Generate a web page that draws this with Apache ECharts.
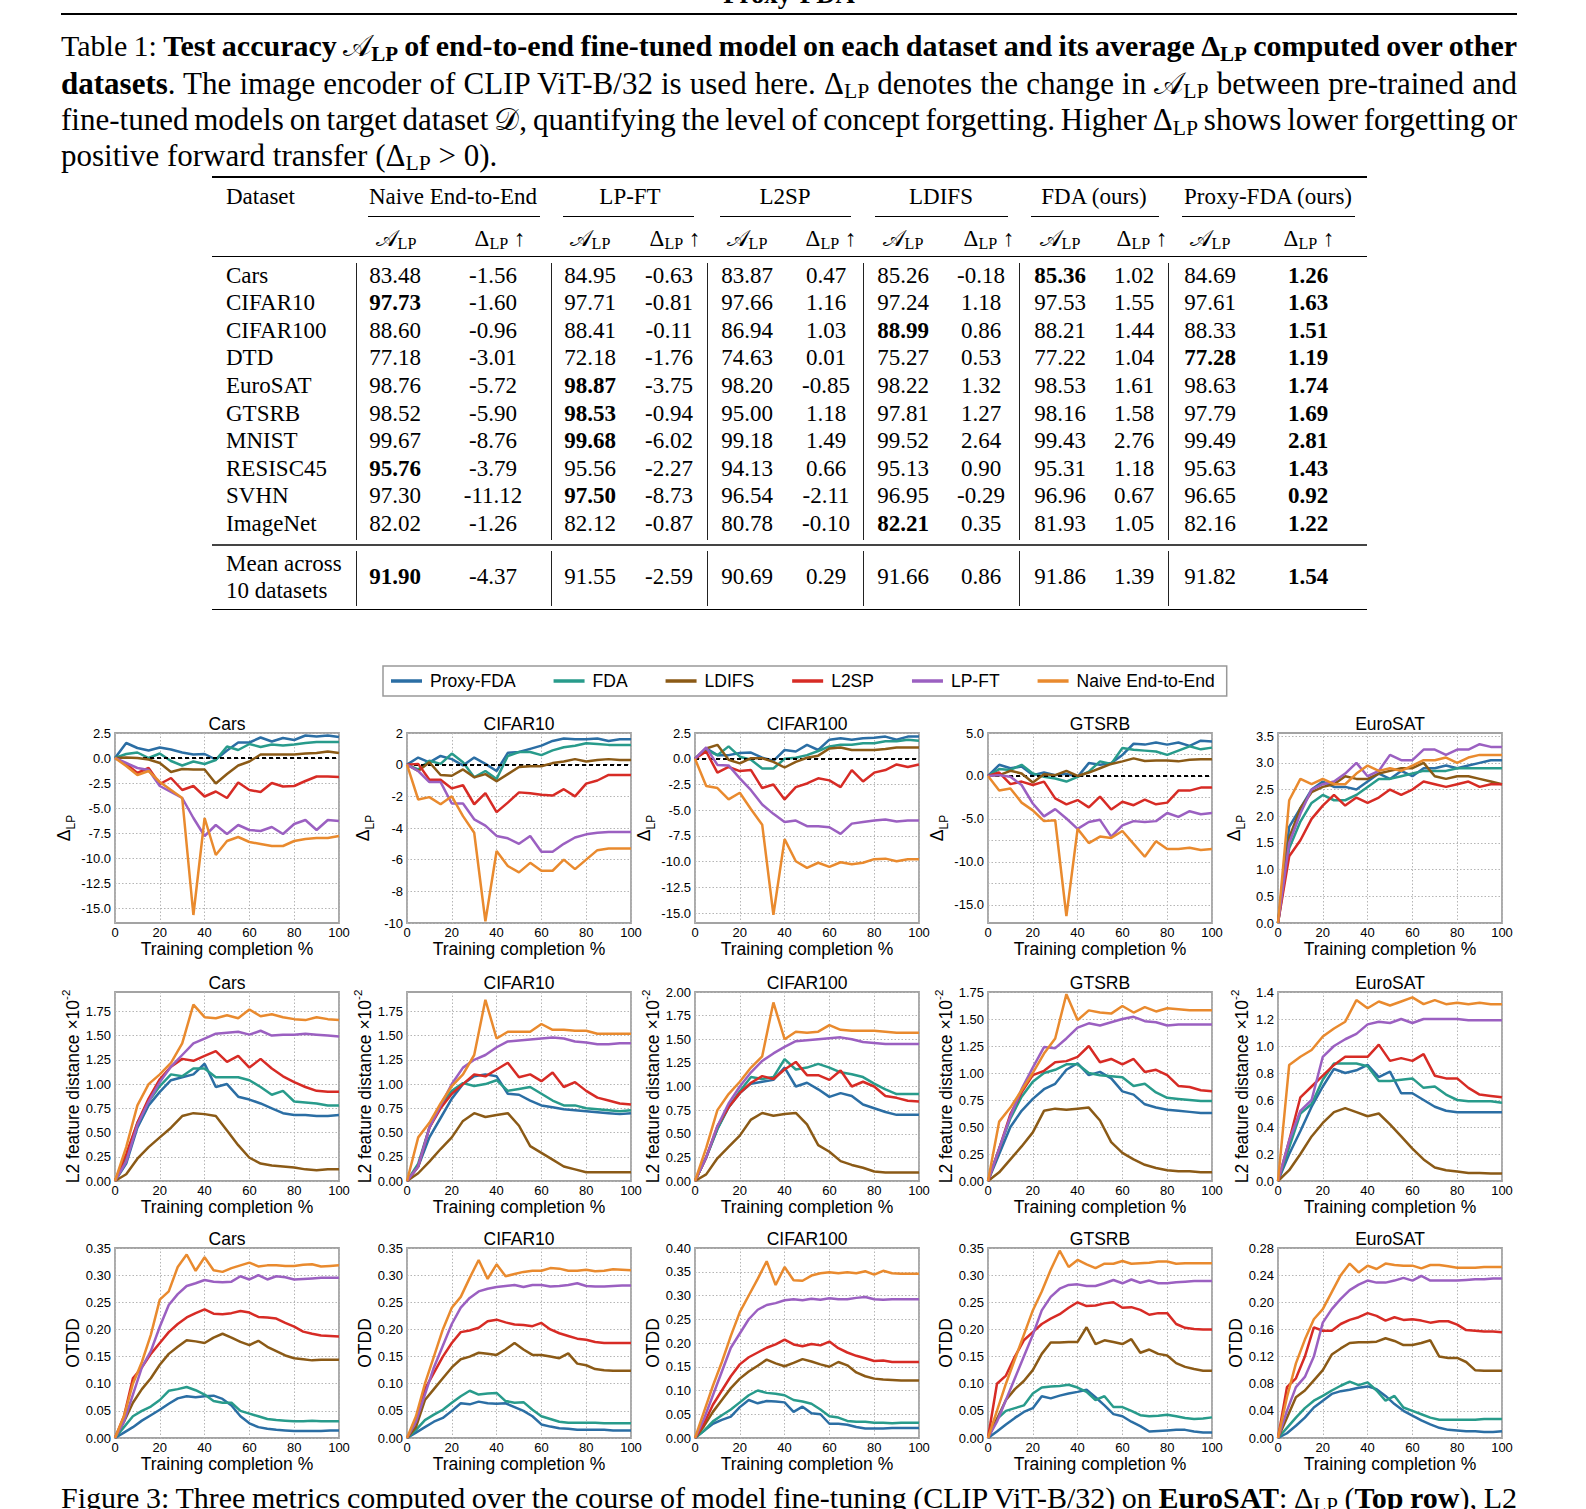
<!DOCTYPE html>
<html>
<head>
<meta charset="utf-8">
<script src="https://cdn.jsdelivr.net/npm/echarts@6.0.0/dist/echarts.min.js"></script>
<style>
html,body{margin:0;padding:0;background:#fff;}
#page{position:relative;width:1586px;height:1509px;overflow:hidden;font-family:"Liberation Serif","Times New Roman",serif;color:#000;background:#fff;}
.abs{position:absolute;white-space:nowrap;}
.cap{position:absolute;left:61px;width:1456px;font-size:31px;line-height:36.5px;white-space:nowrap;}
.sb{position:relative;top:0.22em;font-size:0.7em;}
.cal{font-family:"DejaVu Serif","DejaVu Sans","Noto Sans",serif;font-style:normal;font-weight:normal;}
.hl{position:absolute;background:#000;}
#chart{position:absolute;left:0;top:640px;width:1586px;height:840px;}
</style>
</head>
<body>
<div id="page">
  <div class="abs" style="left:589px;width:400px;text-align:center;top:-18.9px;font-size:26.7px;line-height:26.7px;font-weight:bold;">Proxy-FDA</div>
  <div class="hl" style="left:61px;top:12.5px;width:1456px;height:2.8px;"></div>
  <div class="cap jl" style="top:28.4px;font-size:30px"><span>Table 1: <b>Test accuracy <span class="cal">𝒜</span><span class="sb">LP</span> of end-to-end fine-tuned model on each dataset and its average Δ<span class="sb">LP</span> computed over other</b></span></div>
  <div class="cap jl" style="top:64.5px"><span><b>datasets</b>. The image encoder of CLIP ViT-B/32 is used here. Δ<span class="sb">LP</span> denotes the change in <span class="cal">𝒜</span><span class="sb">LP</span> between pre-trained and</span></div>
  <div class="cap jl" style="top:101px"><span>fine-tuned models on target dataset <span class="cal">𝒟</span>, quantifying the level of concept forgetting. Higher Δ<span class="sb">LP</span> shows lower forgetting or</span></div>
  <div class="cap" style="top:137.5px"><span>positive forward transfer (Δ<span class="sb">LP</span> &gt; 0).</span></div>
  <div class="cap jl" style="top:1479.8px;font-size:30px"><span>Figure 3: Three metrics computed over the course of model fine-tuning (CLIP ViT-B/32) on <b>EuroSAT</b>: Δ<span class="sb">LP</span> (<b>Top row</b>), L2</span></div>
  <div id="chart"></div>
</div>
<script>
// ---------------- TABLE DATA ----------------
const DATASETS = ['Cars','CIFAR10','CIFAR100','DTD','EuroSAT','GTSRB','MNIST','RESISC45','SVHN','ImageNet'];
const METHOD_HEADS = ['Naive End-to-End','LP-FT','L2SP','LDIFS','FDA (ours)','Proxy-FDA (ours)'];
const accNaive = [83.48, 97.73, 88.60, 77.18, 98.76, 98.52, 99.67, 95.76, 97.30, 82.02];
const dltNaive = [-1.56, -1.60, -0.96, -3.01, -5.72, -5.90, -8.76, -3.79, -11.12, -1.26];
const accLpft  = [84.95, 97.71, 88.41, 72.18, 98.87, 98.53, 99.68, 95.56, 97.50, 82.12];
const dltLpft  = [-0.63, -0.81, -0.11, -1.76, -3.75, -0.94, -6.02, -2.27, -8.73, -0.87];
const accL2sp  = [83.87, 97.66, 86.94, 74.63, 98.20, 95.00, 99.18, 94.13, 96.54, 80.78];
const dltL2sp  = [0.47, 1.16, 1.03, 0.01, -0.85, 1.18, 1.49, 0.66, -2.11, -0.10];
const accLdifs = [85.26, 97.24, 88.99, 75.27, 98.22, 97.81, 99.52, 95.13, 96.95, 82.21];
const dltLdifs = [-0.18, 1.18, 0.86, 0.53, 1.32, 1.27, 2.64, 0.90, -0.29, 0.35];
const accFda   = [85.36, 97.53, 88.21, 77.22, 98.53, 98.16, 99.43, 95.31, 96.96, 81.93];
const dltFda   = [1.02, 1.55, 1.44, 1.04, 1.61, 1.58, 2.76, 1.18, 0.67, 1.05];
const accProxy = [84.69, 97.61, 88.33, 77.28, 98.63, 97.79, 99.49, 95.63, 96.65, 82.16];
const dltProxy = [1.26, 1.63, 1.51, 1.19, 1.74, 1.69, 2.81, 1.43, 0.92, 1.22];
const meanAcc  = [91.90, 91.55, 90.69, 91.66, 91.86, 91.82];
const meanDlt  = [-4.37, -2.59, 0.29, 0.86, 1.39, 1.54];

// ---------------- CHART DATA ----------------
const METHODS = ['Proxy-FDA','FDA','LDIFS','L2SP','LP-FT','Naive End-to-End'];
const TITLES = ['Cars','CIFAR10','CIFAR100','GTSRB','EuroSAT'];
const XS5 = [0,5,10,15,20,25,30,35,40,45,50,55,60,65,70,75,80,85,90,95,100];
const XS4 = [0,4,8,12,16,20,24,28,32,36,40,44,48,52,56,60,64,68,72,76,80,84,88,92,96,100];

// Row 1: Delta_LP  (order: Proxy-FDA, FDA, LDIFS, L2SP, LP-FT, Naive)
const dlpCars = [
 [0,1.5,1.0,0.75,1.05,0.85,0.55,0.35,0.4,-0.15,0.75,1.55,1.55,2.05,1.65,2.0,1.8,2.25,2.15,2.25,2.1],
 [0,0.4,0.55,0.0,0.45,-0.3,-0.75,-0.35,-0.6,-0.2,1.15,0.8,1.4,1.1,1.35,1.25,1.35,1.5,1.6,1.6,1.6],
 [0,0.05,0.0,-0.15,-0.5,-1.4,-1.1,-1.15,-1.15,-2.55,-1.6,-0.75,-0.35,0.35,0.35,0.35,0.35,0.45,0.5,0.65,0.5],
 [0,-0.6,-1.5,-1.0,-2.6,-2.0,-3.2,-2.8,-3.85,-3.35,-4.0,-2.45,-3.2,-3.4,-2.5,-2.85,-2.8,-2.3,-1.85,-1.85,-1.9],
 [0,-0.5,-1.0,-1.2,-2.8,-3.4,-4.0,-6.0,-7.8,-6.7,-7.6,-6.7,-7.2,-7.3,-6.9,-7.6,-6.6,-6.2,-7.2,-6.2,-6.3],
 [0,-0.8,-1.7,-1.3,-2.4,-3.2,-4.0,-15.7,-6.0,-9.7,-8.3,-7.9,-8.4,-8.6,-8.8,-8.8,-8.3,-8.1,-8.0,-8.0,-7.8]
];
const dlpC10 = [
 [0,0.45,0.15,0.55,0.35,-0.05,0.45,0.05,-0.4,0.75,0.8,1.0,1.2,1.5,1.65,1.6,1.6,1.65,1.5,1.6,1.6],
 [0,-0.3,0.25,0.05,0.7,0.15,-0.8,-0.4,-0.9,0.55,0.8,0.8,0.6,0.9,1.1,1.2,1.35,1.3,1.25,1.25,1.25],
 [0,-0.4,0.15,-0.65,-0.7,-0.3,-0.8,-0.6,-1.05,-0.6,-0.15,-0.1,-0.1,0.1,0.2,0.35,0.2,0.3,0.35,0.3,0.3],
 [0,0.05,-0.95,-0.95,-1.5,-1.3,-2.5,-1.8,-3.0,-2.4,-1.75,-1.8,-1.9,-1.95,-1.55,-2.0,-1.2,-1.0,-0.65,-0.65,-0.65],
 [0,-0.4,-1.1,-1.1,-2.45,-2.45,-3.45,-3.85,-4.5,-4.65,-5.0,-4.5,-5.5,-5.5,-5.0,-4.6,-4.4,-4.3,-4.25,-4.25,-4.25],
 [0,-2.2,-2.05,-2.5,-2.0,-3.25,-4.3,-9.9,-5.45,-6.4,-6.8,-6.2,-6.7,-6.7,-6.0,-6.6,-6.0,-5.4,-5.3,-5.3,-5.3]
];
const dlpC100 = [
 [0,1.0,0.35,0.35,0.55,0.6,0.1,-0.2,0.85,0.7,1.35,0.85,1.85,2.0,1.85,2.0,2.05,2.15,1.85,2.15,2.15],
 [0,0.85,0.35,1.2,0.2,-0.1,-0.95,-0.95,0.0,0.1,0.35,0.75,1.2,1.35,1.35,1.5,1.5,1.7,1.7,1.85,1.75],
 [0,1.0,1.35,-0.1,-0.45,0.05,0.05,-0.3,-0.85,-0.3,0.1,0.3,1.0,1.1,0.85,0.85,0.85,0.95,1.1,1.1,1.1],
 [0,0.7,-1.35,-0.8,-1.2,-1.1,-2.85,-2.5,-3.95,-2.75,-2.4,-1.9,-2.1,-2.75,-1.1,-2.2,-1.35,-1.1,-0.55,-0.8,-0.55],
 [0,1.1,-0.6,-0.65,-1.9,-3.05,-4.45,-5.35,-6.15,-6.0,-6.55,-6.55,-6.65,-7.3,-6.3,-6.15,-6.0,-5.9,-6.1,-6.0,-6.0],
 [0,-2.65,-2.85,-3.95,-3.3,-4.9,-6.4,-15.15,-7.8,-9.95,-10.6,-10.1,-10.5,-10.05,-10.25,-10.1,-9.75,-9.7,-9.95,-9.75,-9.75]
];
const dlpGTSRB = [
 [0,1.3,0.9,1.1,0.1,0.4,0.1,0.25,-0.1,1.5,1.3,1.5,2.45,3.75,3.65,3.9,3.65,3.9,3.5,4.1,4.0],
 [0,0.8,0.7,1.3,0.3,-0.1,-0.3,-0.65,-0.1,0.5,1.7,1.4,3.25,3.05,2.95,2.85,2.45,2.95,3.45,3.1,3.3],
 [0,0.1,0.6,0.3,-0.75,0.2,0.1,0.6,0.0,0.4,0.9,1.4,1.7,2.05,1.75,1.8,1.8,1.7,1.9,1.95,1.95],
 [0,0.4,-0.95,-0.65,-1.05,-0.65,-2.6,-3.3,-2.8,-3.65,-2.4,-3.9,-3.0,-3.4,-2.75,-3.3,-3.1,-1.7,-1.7,-1.35,-1.35],
 [0,0.1,-0.1,-1.05,-3.2,-4.7,-3.85,-4.95,-6.15,-5.35,-5.1,-7.05,-5.75,-5.25,-5.35,-5.25,-4.3,-4.75,-4.1,-4.45,-4.3],
 [0,-1.7,-1.45,-3.1,-4.0,-5.25,-5.15,-16.3,-6.15,-7.8,-7.05,-7.2,-6.4,-7.9,-9.4,-7.6,-8.5,-8.5,-8.35,-8.6,-8.5]
];
const dlpEuro = [
 [0,1.8,2.15,2.5,2.65,2.55,2.55,2.5,2.65,2.8,2.7,2.85,2.75,2.9,2.9,2.95,2.9,2.95,3.0,3.05,3.05],
 [0,1.4,1.9,2.25,2.4,2.3,2.3,2.4,2.55,2.7,2.7,2.75,2.8,2.85,2.85,2.85,2.9,2.9,2.9,2.9,2.9],
 [0,1.6,2.15,2.45,2.55,2.6,2.75,2.7,2.7,2.8,2.85,2.9,2.9,3.0,2.75,2.7,2.75,2.75,2.7,2.65,2.6],
 [0,1.25,1.55,1.95,2.2,2.4,2.2,2.35,2.25,2.35,2.5,2.4,2.5,2.65,2.6,2.55,2.6,2.65,2.55,2.6,2.6],
 [0,1.5,2.05,2.5,2.6,2.65,2.8,3.0,2.75,2.85,3.15,3.05,3.05,3.25,3.25,3.15,3.25,3.25,3.35,3.3,3.3],
 [0,2.3,2.7,2.6,2.7,2.6,2.6,2.8,2.95,2.85,2.9,2.85,2.95,3.05,3.05,3.1,3.0,3.1,3.15,3.15,3.15]
];

// Row 2: L2 feature distance (x10^-2)
const l2Cars = [
 [0,0.18,0.55,0.78,0.92,1.04,1.07,1.1,1.21,0.97,1.0,0.87,0.84,0.8,0.75,0.7,0.68,0.68,0.67,0.67,0.68],
 [0,0.25,0.6,0.82,0.98,1.1,1.08,1.16,1.16,1.07,1.07,1.07,1.04,0.97,0.89,0.93,0.82,0.81,0.8,0.78,0.78],
 [0,0.07,0.23,0.35,0.45,0.55,0.67,0.70,0.69,0.67,0.52,0.37,0.24,0.18,0.16,0.15,0.14,0.12,0.11,0.12,0.12],
 [0,0.28,0.6,0.85,1.05,1.18,1.26,1.24,1.29,1.34,1.23,1.29,1.17,1.26,1.16,1.08,1.02,0.97,0.93,0.92,0.92],
 [0,0.2,0.58,0.82,1.02,1.18,1.3,1.42,1.47,1.52,1.53,1.54,1.51,1.55,1.5,1.51,1.51,1.52,1.51,1.5,1.49],
 [0,0.35,0.78,1.0,1.1,1.22,1.42,1.82,1.69,1.68,1.71,1.68,1.77,1.7,1.72,1.69,1.67,1.66,1.69,1.67,1.66]
];
const l2C10 = [
 [0,0.15,0.45,0.65,0.85,1.0,1.08,1.1,1.08,0.9,0.89,0.83,0.78,0.76,0.74,0.73,0.72,0.71,0.7,0.69,0.7],
 [0,0.18,0.55,0.78,0.93,1.01,0.98,1.0,1.04,0.93,0.95,0.97,0.9,0.83,0.78,0.78,0.75,0.74,0.73,0.72,0.73],
 [0,0.08,0.2,0.33,0.45,0.62,0.7,0.66,0.68,0.7,0.57,0.36,0.29,0.22,0.15,0.12,0.09,0.09,0.09,0.09,0.09],
 [0,0.15,0.55,0.75,0.9,1.0,1.1,1.08,1.15,1.22,1.07,1.1,1.03,1.12,0.97,1.02,0.93,0.86,0.83,0.8,0.79],
 [0,0.15,0.55,0.78,1.0,1.17,1.25,1.3,1.38,1.44,1.45,1.46,1.47,1.48,1.47,1.44,1.43,1.41,1.41,1.42,1.42],
 [0,0.45,0.6,0.8,0.98,1.1,1.3,1.87,1.47,1.54,1.54,1.54,1.62,1.56,1.56,1.55,1.55,1.52,1.52,1.52,1.52]
];
const l2C100 = [
 [0,0.25,0.55,0.78,0.93,1.03,1.05,1.07,1.2,1.0,1.04,0.97,0.89,0.93,0.9,0.81,0.77,0.73,0.7,0.7,0.7],
 [0,0.25,0.55,0.78,0.95,1.1,1.08,1.1,1.29,1.18,1.2,1.24,1.2,1.15,1.13,1.1,1.03,0.97,0.92,0.92,0.92],
 [0,0.07,0.24,0.36,0.48,0.65,0.72,0.69,0.71,0.72,0.6,0.38,0.31,0.21,0.17,0.14,0.1,0.09,0.09,0.09,0.09],
 [0,0.25,0.58,0.78,0.93,1.04,1.11,1.08,1.18,1.26,1.12,1.12,1.07,1.17,1.0,1.05,1.0,0.9,0.88,0.85,0.84],
 [0,0.25,0.58,0.82,1.0,1.15,1.27,1.35,1.42,1.48,1.49,1.5,1.51,1.52,1.5,1.47,1.46,1.45,1.45,1.45,1.45],
 [0,0.35,0.75,0.92,1.05,1.2,1.32,1.89,1.5,1.58,1.57,1.58,1.65,1.6,1.59,1.59,1.59,1.58,1.57,1.57,1.57]
];
const l2GTSRB = [
 [0,0.25,0.5,0.65,0.76,0.85,0.9,1.03,1.09,0.98,1.01,0.95,0.83,0.8,0.71,0.68,0.66,0.65,0.64,0.63,0.63],
 [0,0.3,0.58,0.78,0.92,1.0,1.03,1.08,1.08,1.0,0.98,0.97,0.96,0.88,0.9,0.82,0.77,0.76,0.75,0.74,0.74],
 [0,0.08,0.2,0.32,0.45,0.65,0.67,0.66,0.67,0.68,0.56,0.36,0.26,0.2,0.15,0.12,0.1,0.09,0.09,0.08,0.08],
 [0,0.3,0.62,0.82,0.98,1.02,1.1,1.11,1.15,1.25,1.1,1.13,1.08,1.13,1.01,1.03,0.98,0.88,0.87,0.84,0.83],
 [0,0.3,0.6,0.85,1.05,1.24,1.23,1.32,1.42,1.46,1.44,1.47,1.5,1.52,1.48,1.47,1.44,1.45,1.45,1.45,1.45],
 [0,0.55,0.68,0.84,1.0,1.18,1.32,1.73,1.49,1.58,1.56,1.55,1.62,1.56,1.61,1.57,1.6,1.59,1.58,1.58,1.58]
];
const l2Euro = [
 [0,0.2,0.37,0.55,0.7,0.83,0.8,0.82,0.86,0.77,0.81,0.65,0.65,0.6,0.55,0.52,0.51,0.51,0.51,0.51,0.51],
 [0,0.25,0.5,0.57,0.75,0.87,0.87,0.87,0.85,0.74,0.74,0.75,0.76,0.69,0.7,0.64,0.6,0.59,0.59,0.59,0.58],
 [0,0.08,0.2,0.33,0.43,0.51,0.54,0.51,0.48,0.5,0.42,0.33,0.24,0.16,0.1,0.08,0.07,0.06,0.06,0.055,0.055],
 [0,0.3,0.62,0.7,0.78,0.86,0.92,0.92,0.92,1.01,0.89,0.91,0.89,0.94,0.78,0.76,0.76,0.69,0.64,0.63,0.62],
 [0,0.3,0.52,0.6,0.92,1.0,1.05,1.09,1.16,1.18,1.17,1.2,1.17,1.2,1.2,1.2,1.2,1.19,1.19,1.19,1.19],
 [0,0.86,0.92,0.97,1.07,1.13,1.18,1.34,1.28,1.33,1.3,1.33,1.36,1.31,1.34,1.31,1.32,1.31,1.32,1.31,1.31]
];

// Row 3: OTDD
const otCars = [
 [0,0.01,0.02,0.032,0.042,0.052,0.063,0.073,0.077,0.075,0.077,0.078,0.072,0.06,0.04,0.027,0.02,0.017,0.015,0.014,0.013,0.013,0.013,0.013,0.014,0.014],
 [0,0.02,0.04,0.05,0.058,0.07,0.087,0.09,0.094,0.088,0.08,0.068,0.065,0.065,0.05,0.045,0.04,0.035,0.033,0.032,0.031,0.031,0.032,0.031,0.031,0.031],
 [0,0.03,0.065,0.09,0.11,0.135,0.155,0.168,0.18,0.178,0.175,0.185,0.192,0.185,0.177,0.171,0.179,0.168,0.16,0.152,0.147,0.145,0.143,0.144,0.144,0.144],
 [0,0.04,0.11,0.13,0.155,0.175,0.195,0.21,0.222,0.23,0.237,0.229,0.228,0.23,0.234,0.231,0.223,0.222,0.22,0.212,0.205,0.196,0.192,0.189,0.188,0.187],
 [0,0.03,0.08,0.13,0.16,0.205,0.245,0.265,0.28,0.285,0.291,0.288,0.287,0.288,0.298,0.292,0.3,0.292,0.298,0.296,0.292,0.293,0.294,0.295,0.295,0.295],
 [0,0.04,0.1,0.14,0.19,0.255,0.27,0.315,0.338,0.308,0.333,0.309,0.306,0.313,0.318,0.323,0.316,0.318,0.318,0.317,0.317,0.319,0.32,0.316,0.317,0.318]
];
const otC10 = [
 [0,0.01,0.02,0.03,0.037,0.05,0.064,0.062,0.067,0.064,0.063,0.064,0.057,0.05,0.04,0.025,0.021,0.018,0.017,0.015,0.015,0.015,0.015,0.014,0.014,0.014],
 [0,0.015,0.033,0.043,0.052,0.065,0.077,0.087,0.08,0.082,0.083,0.068,0.065,0.066,0.052,0.04,0.035,0.03,0.028,0.028,0.028,0.028,0.027,0.027,0.027,0.027],
 [0,0.02,0.07,0.09,0.11,0.13,0.145,0.15,0.157,0.155,0.153,0.163,0.175,0.163,0.153,0.153,0.15,0.147,0.156,0.137,0.134,0.127,0.125,0.124,0.124,0.124],
 [0,0.03,0.09,0.12,0.15,0.175,0.195,0.198,0.203,0.215,0.218,0.213,0.209,0.208,0.206,0.212,0.2,0.193,0.188,0.183,0.181,0.177,0.175,0.175,0.175,0.175],
 [0,0.03,0.08,0.13,0.17,0.21,0.24,0.258,0.27,0.275,0.278,0.28,0.282,0.278,0.282,0.282,0.279,0.28,0.282,0.285,0.28,0.279,0.279,0.28,0.281,0.281],
 [0,0.04,0.1,0.15,0.2,0.24,0.26,0.295,0.328,0.293,0.32,0.298,0.302,0.306,0.308,0.308,0.313,0.312,0.308,0.308,0.31,0.307,0.308,0.311,0.31,0.309]
];
const otC100 = [
 [0,0.015,0.03,0.038,0.045,0.065,0.08,0.073,0.078,0.077,0.075,0.055,0.066,0.052,0.05,0.03,0.03,0.028,0.023,0.02,0.02,0.02,0.021,0.021,0.021,0.021],
 [0,0.015,0.035,0.048,0.06,0.075,0.09,0.1,0.095,0.093,0.09,0.08,0.077,0.072,0.06,0.046,0.043,0.036,0.034,0.034,0.032,0.032,0.031,0.032,0.032,0.032],
 [0,0.025,0.055,0.08,0.105,0.125,0.14,0.152,0.165,0.157,0.151,0.158,0.166,0.161,0.155,0.15,0.16,0.153,0.138,0.13,0.125,0.123,0.122,0.121,0.121,0.121],
 [0,0.03,0.07,0.1,0.13,0.155,0.17,0.18,0.19,0.197,0.207,0.197,0.193,0.198,0.195,0.203,0.189,0.18,0.173,0.168,0.162,0.163,0.16,0.16,0.16,0.16],
 [0,0.04,0.09,0.14,0.19,0.22,0.25,0.27,0.28,0.284,0.29,0.292,0.29,0.293,0.291,0.294,0.292,0.292,0.295,0.297,0.292,0.291,0.292,0.292,0.292,0.292],
 [0,0.055,0.11,0.16,0.215,0.265,0.3,0.335,0.372,0.322,0.36,0.332,0.331,0.342,0.347,0.349,0.347,0.349,0.347,0.351,0.344,0.352,0.347,0.346,0.346,0.346]
];
const otGTSRB = [
 [0,0.012,0.025,0.037,0.048,0.055,0.077,0.073,0.078,0.082,0.085,0.089,0.075,0.06,0.044,0.04,0.03,0.022,0.012,0.013,0.014,0.015,0.015,0.012,0.01,0.01],
 [0,0.035,0.05,0.055,0.06,0.082,0.093,0.095,0.096,0.098,0.093,0.085,0.07,0.077,0.057,0.057,0.05,0.042,0.04,0.041,0.043,0.04,0.037,0.035,0.036,0.038],
 [0,0.035,0.07,0.09,0.105,0.125,0.155,0.176,0.176,0.177,0.177,0.204,0.173,0.18,0.177,0.173,0.182,0.157,0.163,0.155,0.152,0.138,0.131,0.127,0.124,0.124],
 [0,0.1,0.115,0.15,0.18,0.195,0.21,0.22,0.228,0.24,0.25,0.243,0.244,0.248,0.25,0.24,0.241,0.236,0.227,0.23,0.23,0.21,0.203,0.201,0.2,0.2],
 [0,0.03,0.07,0.11,0.15,0.19,0.235,0.26,0.275,0.282,0.283,0.28,0.28,0.285,0.291,0.285,0.292,0.286,0.29,0.285,0.285,0.287,0.288,0.289,0.289,0.289],
 [0,0.05,0.1,0.145,0.19,0.235,0.27,0.31,0.345,0.315,0.328,0.32,0.313,0.321,0.321,0.326,0.321,0.322,0.323,0.325,0.325,0.321,0.322,0.322,0.322,0.322]
];
const otEuro = [
 [0,0.007,0.018,0.03,0.045,0.055,0.065,0.069,0.071,0.074,0.076,0.072,0.062,0.05,0.04,0.033,0.026,0.02,0.015,0.012,0.011,0.01,0.01,0.009,0.009,0.01],
 [0,0.015,0.03,0.044,0.055,0.062,0.07,0.077,0.083,0.078,0.082,0.07,0.055,0.062,0.045,0.04,0.035,0.03,0.027,0.027,0.027,0.027,0.027,0.028,0.028,0.028],
 [0,0.03,0.06,0.07,0.085,0.1,0.123,0.132,0.14,0.141,0.141,0.142,0.147,0.143,0.137,0.137,0.14,0.144,0.12,0.118,0.118,0.112,0.1,0.099,0.099,0.099],
 [0,0.075,0.088,0.12,0.163,0.158,0.158,0.168,0.174,0.178,0.184,0.18,0.173,0.178,0.174,0.175,0.173,0.17,0.172,0.172,0.167,0.159,0.158,0.157,0.157,0.156],
 [0,0.04,0.075,0.09,0.12,0.17,0.19,0.205,0.218,0.226,0.232,0.229,0.229,0.232,0.236,0.232,0.239,0.232,0.232,0.232,0.232,0.233,0.234,0.234,0.235,0.235],
 [0,0.06,0.11,0.145,0.175,0.19,0.215,0.24,0.257,0.244,0.254,0.249,0.257,0.255,0.254,0.254,0.25,0.255,0.255,0.253,0.251,0.251,0.251,0.252,0.252,0.252]
];

// tick label values of each y axis
function range(a, b, s) { const n = Math.round((b - a) / s), r = []; for (let i = 0; i <= n; i++) r.push(+(a + i * s).toFixed(6)); return r; }
const Y_ROW1 = [
  {min: -16.5, max: 2.5, ticks: range(-15, 2.5, 2.5), dec: 1},
  {min: -10, max: 2, ticks: range(-10, 2, 2), dec: 0},
  {min: -15.95, max: 2.5, ticks: range(-15, 2.5, 2.5), dec: 1},
  {min: -17.1, max: 5, ticks: range(-15, 5, 2.5), labels: range(-15, 5, 5), dec: 1},
  {min: 0, max: 3.56, ticks: range(0, 3.5, 0.5), dec: 1}
];
const Y_ROW2 = [
  {min: 0, max: 1.95, ticks: range(0, 1.75, 0.25), dec: 2},
  {min: 0, max: 1.95, ticks: range(0, 1.75, 0.25), dec: 2},
  {min: 0, max: 2.0, ticks: range(0, 2.0, 0.25), dec: 2},
  {min: 0, max: 1.75, ticks: range(0, 1.75, 0.25), dec: 2},
  {min: 0, max: 1.4, ticks: range(0, 1.4, 0.2), dec: 1}
];
const Y_ROW3 = [
  {min: 0, max: 0.35, ticks: range(0, 0.35, 0.05), dec: 2},
  {min: 0, max: 0.35, ticks: range(0, 0.35, 0.05), dec: 2},
  {min: 0, max: 0.40, ticks: range(0, 0.40, 0.05), dec: 2},
  {min: 0, max: 0.35, ticks: range(0, 0.35, 0.05), dec: 2},
  {min: 0, max: 0.28, ticks: range(0, 0.28, 0.04), dec: 2}
];

// ---------------- TABLE LAYOUT ----------------
const page = document.getElementById('page');
function put(html, x, cy, align, size, bold) {
  const d = document.createElement('div');
  d.className = 'abs';
  d.style.fontSize = size + 'px';
  d.style.lineHeight = size + 'px';
  d.style.top = (cy - size / 2) + 'px';
  if (align === 'c') { d.style.left = (x - 150) + 'px'; d.style.width = '300px'; d.style.textAlign = 'center'; }
  else d.style.left = x + 'px';
  if (bold) d.style.fontWeight = 'bold';
  d.innerHTML = html;
  page.appendChild(d);
}
function rule(x, y, w, h, c) {
  const d = document.createElement('div');
  d.className = 'hl';
  d.style.left = x + 'px'; d.style.top = y + 'px'; d.style.width = w + 'px'; d.style.height = h + 'px';
  d.style.background = c || '#000';
  page.appendChild(d);
}
const FS = 23;
const colA = [395, 590, 747, 903, 1060, 1210];
const colD = [493, 669, 826, 981, 1134, 1308];
const headA = [396, 590, 747, 903, 1060, 1210];
const headD = [500, 675, 831, 989, 1142, 1309];
const groupC = [453, 630, 785, 941, 1094, 1268];
const cmid = [[368,540],[563,694],[720,851],[875,1008],[1031,1159],[1182,1355]];
const vx = [356, 551, 707, 863, 1019, 1168];
const ACC = [accNaive, accLpft, accL2sp, accLdifs, accFda, accProxy];
const DLT = [dltNaive, dltLpft, dltL2sp, dltLdifs, dltFda, dltProxy];

rule(212, 176.3, 1155, 1.5);
put('Dataset', 226, 196.7, 'l', FS);
METHOD_HEADS.forEach((h, i) => {
  put(h, groupC[i], 196.7, 'c', FS);
  rule(cmid[i][0], 216.2, cmid[i][1] - cmid[i][0], 1);
  put('<span class="cal">𝒜</span><span class="sb">LP</span>', headA[i], 238.3, 'c', FS);
  put('Δ<span class="sb">LP</span> ↑', headD[i], 238.3, 'c', FS);
});
rule(212, 255.5, 1155, 1);
DATASETS.forEach((ds, r) => {
  const cy = 275 + 27.6 * r;
  put(ds, 226, cy, 'l', FS);
  const accRow = ACC.map(a => a[r]), dRow = DLT.map(a => a[r]);
  const maxA = Math.max(...accRow), maxD = Math.max(...dRow);
  for (let i = 0; i < 6; i++) {
    put(accRow[i].toFixed(2), colA[i], cy, 'c', FS, accRow[i] === maxA);
    put(dRow[i].toFixed(2), colD[i], cy, 'c', FS, dRow[i] === maxD);
  }
});
rule(212, 544, 1155, 2, '#444');
put('Mean across', 226, 563.3, 'l', FS);
put('10 datasets', 226, 590.7, 'l', FS);
{
  const maxA = Math.max(...meanAcc), maxD = Math.max(...meanDlt);
  for (let i = 0; i < 6; i++) {
    put(meanAcc[i].toFixed(2), colA[i], 576.7, 'c', FS, meanAcc[i] === maxA);
    put(meanDlt[i].toFixed(2), colD[i], 576.7, 'c', FS, meanDlt[i] === maxD);
  }
}
rule(212, 608.8, 1155, 1.5);
vx.forEach(x => { rule(x, 263, 1.1, 277, '#222'); rule(x, 551, 1.1, 55, '#222'); });

// manual justification of caption lines
document.querySelectorAll('.jl').forEach(el => {
  const sp = el.firstElementChild;
  const w = sp.getBoundingClientRect().width;
  const n = (sp.textContent.match(/ /g) || []).length;
  if (n > 0) el.style.wordSpacing = ((1456 - w) / n) + 'px';
});

// ---------------- CHARTS ----------------
const SANS = '"Liberation Sans", Arial, Helvetica, sans-serif';
const COLORS = ['#2b6ea4', '#289b8b', '#8b5a16', '#d72b25', '#9b60c1', '#e98a2e'];
const COL_LEFT = [115, 407, 695, 988, 1278];
const GW = 224;
const ROW_TOP = [93, 352, 608];
const ROW_H = [190, 189, 190];
const ROWS = [[dlpCars, dlpC10, dlpC100, dlpGTSRB, dlpEuro], [l2Cars, l2C10, l2C100, l2GTSRB, l2Euro], [otCars, otC10, otC100, otGTSRB, otEuro]];
const ROW_X = [XS5, XS5, XS4];
const YSPEC = [Y_ROW1, Y_ROW2, Y_ROW3];
const Y_NAMES = ['{d|Δ}{s|LP}', '{m|L2 feature distance ×10}{p|-2}', '{m|OTDD}'];
const Y_GAPS = [31, 27, 31];
const GRIDLINE = {color: '#b5b5b5', type: [1.5, 2], width: 1};

const grids = [], xAxes = [], yAxes = [], series = [], graphics = [];
let gi = 0;
for (let r = 0; r < 3; r++) {
  for (let c = 0; c < 5; c++) {
    grids.push({left: COL_LEFT[c], top: ROW_TOP[r], width: GW, height: ROW_H[r], show: true,
      borderColor: '#a3a3a3', borderWidth: 1.8, backgroundColor: 'transparent', containLabel: false});
    xAxes.push({gridIndex: gi, type: 'value', min: 0, max: 100, interval: 20,
      axisLine: {show: false}, axisTick: {show: false},
      axisLabel: {fontSize: 13, margin: 3, color: '#000', fontFamily: SANS},
      splitLine: {show: true, lineStyle: GRIDLINE},
      name: 'Training completion %', nameLocation: 'middle', nameGap: 16,
      nameTextStyle: {fontSize: 17.5, color: '#000', fontFamily: SANS}});
    const ys = YSPEC[r][c];
    yAxes.push({gridIndex: gi, type: 'value', min: ys.min, max: ys.max,
      axisLine: {show: false}, axisTick: {show: false, customValues: ys.ticks},
      axisLabel: {customValues: ys.labels || ys.ticks, formatter: v => Number(v).toFixed(ys.dec),
        fontSize: 13, margin: 4, color: '#000', fontFamily: SANS, showMinLabel: true, showMaxLabel: true},
      splitLine: {show: true, lineStyle: GRIDLINE},
      name: Y_NAMES[r], nameLocation: 'middle', nameRotate: 90, nameGap: Y_GAPS[r],
      nameTextStyle: {color: '#000', fontFamily: SANS, fontSize: 17.5,
        rich: {
          d: {fontSize: 17.5, lineHeight: 22, verticalAlign: 'top', fontFamily: SANS, color: '#000'},
          s: {fontSize: 12, lineHeight: 22, verticalAlign: 'bottom', fontFamily: SANS, color: '#000'},
          m: {fontSize: 17.5, lineHeight: 22, verticalAlign: 'bottom', fontFamily: SANS, color: '#000'},
          p: {fontSize: 11.5, lineHeight: 22, verticalAlign: 'top', fontFamily: SANS, color: '#000'}
        }}});
    const sets = ROWS[r][c], xs = ROW_X[r];
    for (let k = 0; k < 6; k++) {
      const s = {name: METHODS[k], type: 'line', xAxisIndex: gi, yAxisIndex: gi,
        data: xs.map((x, j) => [x, sets[k][j]]), symbol: 'none', showSymbol: false,
        lineStyle: {width: 2.5, color: COLORS[k]}, itemStyle: {color: COLORS[k]},
        z: 3 + k, silent: true, animation: false};
      if (k === 0 && r === 0 && c < 4) {
        s.markLine = {silent: true, symbol: ['none', 'none'], label: {show: false},
          lineStyle: {color: '#000', type: [4, 3], width: 2}, data: [{yAxis: 0}], animation: false};
      }
      series.push(s);
    }
    graphics.push({type: 'text', x: COL_LEFT[c] + GW / 2, y: ROW_TOP[r] - 9.5,
      style: {text: TITLES[c], fontSize: 17.5, fontFamily: SANS, fill: '#000',
        align: 'center', textAlign: 'center', verticalAlign: 'middle', textVerticalAlign: 'middle'}});
    gi++;
  }
}

const chart = echarts.init(document.getElementById('chart'), null, {renderer: 'svg'});
chart.setOption({
  animation: false,
  backgroundColor: 'transparent',
  textStyle: {fontFamily: SANS},
  color: COLORS,
  legend: {data: METHODS, left: 383, top: 26, orient: 'horizontal', icon: 'rect',
    itemWidth: 31, itemHeight: 3.5, itemGap: 38, padding: [6, 12, 6, 8],
    borderColor: '#999', borderWidth: 1.5, borderRadius: 0, selectedMode: false,
    textStyle: {fontSize: 17.5, fontFamily: SANS, color: '#000', padding: [0, 0, 0, 3]}},
  grid: grids, xAxis: xAxes, yAxis: yAxes, series: series, graphic: graphics
});
</script>
</body>
</html>
